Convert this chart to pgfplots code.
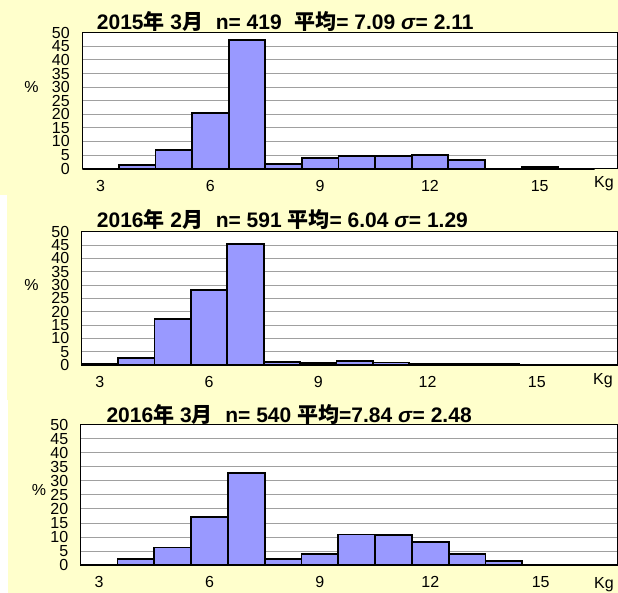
\documentclass[border=0pt]{standalone}
\usepackage{fontspec}
\setmainfont{Liberation Sans}
\newfontfamily\cjk{Noto Sans CJK JP}
\usepackage{pgfplots}
\pgfplotsset{compat=1.18}

\definecolor{bgyellow}{HTML}{FFFFCC}
\definecolor{barblue}{HTML}{9999FF}
\definecolor{gridgray}{HTML}{A0A0A0}

% common look of the three histograms
\pgfplotsset{
  panel/.style={
    scale only axis,
    xmin=2.5, ymin=0, ymax=50,
    axis background/.style={fill=white},
    xtick={3,6,9,12,15},
    ytick={0,5,...,50},
    ymajorgrids,
    grid style={draw=gridgray, line width=0.8pt},
    major tick length=0pt,
    axis line style={line width=1.3pt},
    /pgf/number format/assume math mode=true,
    tick label style={font=\fontsize{16}{16}\selectfont},
    yticklabel style={xshift=-9pt, inner ysep=0pt},
    xticklabel style={yshift=-8pt},
    clip=false,
  },
  hist/.style={ybar interval, fill=barblue, draw=black, line width=1.8pt},
}

\newcommand{\ttl}[1]{\fontsize{21}{22}\selectfont\bfseries #1}

\begin{document}
\begin{tikzpicture}
\fill[bgyellow] (0pt,0pt) rectangle (618pt,593pt);
\fill[white] (0pt,193pt) rectangle (7pt,398pt);
\fill[white] (0pt,0pt) rectangle (8pt,193pt);
\useasboundingbox (0pt,0pt) rectangle (618pt,593pt);

% ---- 2015年3月 ----
\begin{axis}[panel, at={(82.3pt,424.3pt)}, anchor=south west,
  width=535.7pt, height=136pt, xmax=17.14]
\addplot[hist] coordinates {
  (2.5,0) (3.5,1.3) (4.5,7.0) (5.5,20.6) (6.5,47.3) (7.5,1.6)
  (8.5,3.8) (9.5,4.7) (10.5,4.7) (11.5,5.0) (12.5,3.2) (13.5,0)
  (14.5,0.5) (15.5,0) (16.5,0)
};
\end{axis}
\node[anchor=west] at (93.4pt,571.5pt) {\ttl{2015{\cjk 年} 3{\cjk 月}\hspace{0.6em}n= 419\hspace{0.6em}{\cjk 平均}= 7.09 \textit{σ}= 2.11}};
\node at (31.5pt,506pt) {\fontsize{16}{16}\selectfont\%};
\node at (604pt,409pt) {\fontsize{16}{16}\selectfont Kg};

% ---- 2016年2月 ----
\begin{axis}[panel, at={(81.7pt,228pt)}, anchor=south west,
  width=536.3pt, height=133.3pt, xmax=17.23]
\addplot[hist] coordinates {
  (2.5,0.3) (3.5,2.5) (4.5,17.3) (5.5,28.1) (6.5,45.5) (7.5,1.0)
  (8.5,0.75) (9.5,1.6) (10.5,0.9) (11.5,0.5) (12.5,0.4) (13.5,0.3)
  (14.5,0) (15.5,0) (16.5,0)
};
\end{axis}
\node[anchor=west] at (93.4pt,373pt) {\ttl{2016{\cjk 年} 2{\cjk 月}\hspace{0.6em}n= 591 {\cjk 平均}= 6.04 \textit{σ}= 1.29}};
\node at (31.5pt,308pt) {\fontsize{16}{16}\selectfont\%};
\node at (603pt,212pt) {\fontsize{16}{16}\selectfont Kg};

% ---- 2016年3月 ----
\begin{axis}[panel, at={(80.7pt,28pt)}, anchor=south west,
  width=537.3pt, height=140.3pt, xmax=17.1]
\addplot[hist] coordinates {
  (2.5,0) (3.5,2.1) (4.5,6.2) (5.5,17.2) (6.5,32.9) (7.5,2.1)
  (8.5,4.0) (9.5,10.9) (10.5,10.6) (11.5,8.3) (12.5,4.0) (13.5,1.4)
  (14.5,0.2) (15.5,0) (16.5,0)
};
\end{axis}
\node[anchor=west] at (103pt,178.3pt) {\ttl{2016{\cjk 年} 3{\cjk 月}\hspace{0.6em}n= 540 {\cjk 平均}=7.84 \textit{σ}= 2.48}};
\node at (39pt,103pt) {\fontsize{16}{16}\selectfont\%};
\node at (604pt,8pt) {\fontsize{16}{16}\selectfont Kg};
\end{tikzpicture}
\end{document}
